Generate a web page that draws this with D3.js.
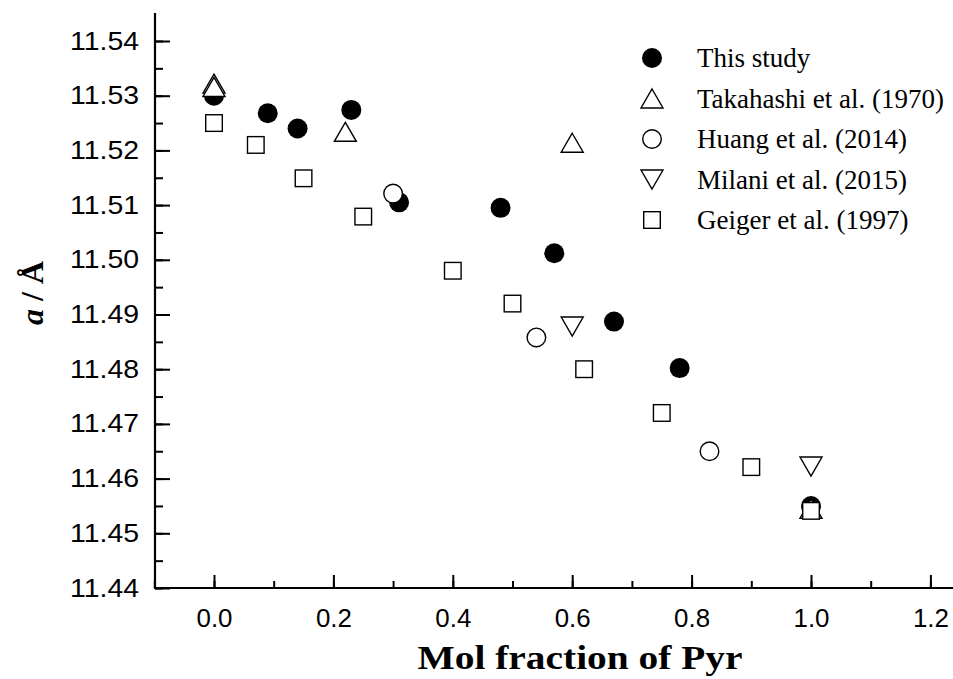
<!DOCTYPE html>
<html><head><meta charset="utf-8">
<script src="https://cdn.jsdelivr.net/npm/d3@7"></script>
<style>body{margin:0;background:#fff}svg{display:block}</style>
</head><body>
<svg id="c" width="953" height="679"></svg>
<script>
// ---- data ----
const thisStudyX = [0.00, 0.09, 0.14, 0.23, 0.31, 0.48, 0.57, 0.67, 0.78, 1.00];
const thisStudyY = [11.5300, 11.5268, 11.5240, 11.5274, 11.5105, 11.5095, 11.5012, 11.4887, 11.4802, 11.4550];
const takahashiX = [0.00, 0.00, 0.22, 0.60, 1.00];
const takahashiY = [11.5322, 11.5316, 11.5234, 11.5214, 11.4545];
const huangX = [0.30, 0.54, 0.83];
const huangY = [11.5121, 11.4858, 11.4650];
const milaniX = [0.60, 1.00];
const milaniY = [11.4878, 11.4622];
const geigerX = [0.00, 0.07, 0.15, 0.25, 0.40, 0.50, 0.62, 0.75, 0.90, 1.00];
const geigerY = [11.5250, 11.5210, 11.5149, 11.5079, 11.4980, 11.4920, 11.4800, 11.4720, 11.4621, 11.4541];
const legendLabels = ["This study", "Takahashi et al. (1970)", "Huang et al. (2014)", "Milani et al. (2015)", "Geiger et al. (1997)"];
const xTicks = [0.0, 0.2, 0.4, 0.6, 0.8, 1.0, 1.2];
const yTicks = [11.44, 11.45, 11.46, 11.47, 11.48, 11.49, 11.50, 11.51, 11.52, 11.53, 11.54];

const svg = d3.select("#c");
const x = d3.scaleLinear().domain([-0.1, 1.2]).range([154.3, 930.4]);
const y = d3.scaleLinear().domain([11.44, 11.54]).range([588, 41]);
const x0 = 155, yTop = 13, yBot = 588, xRight = 953;

// ---- axes ----
const xMinor = d3.range(-1, 13).map(i => i / 10);
const yMinor = d3.range(0, 21).map(i => 11.44 + i * 0.005);

const gx = svg.append("g").attr("transform", `translate(0,${yBot})`);
gx.call(d3.axisBottom(x).tickValues(xMinor).tickSizeInner(-7).tickSizeOuter(0).tickFormat(""));
gx.select(".domain").remove();
const gx2 = svg.append("g").attr("transform", `translate(0,${yBot})`);
gx2.call(d3.axisBottom(x).tickValues(xTicks).tickSizeInner(-13).tickSizeOuter(0).tickPadding(14).tickFormat(d3.format(".1f")));
gx2.select(".domain").remove();
gx2.selectAll("text").attr("font-family", "Liberation Sans, Arial, sans-serif").attr("font-size", 26).attr("fill", "#000").attr("dy", "0.95em")
  .attr("textLength", 36).attr("lengthAdjust", "spacingAndGlyphs");

const gy = svg.append("g").attr("transform", `translate(${x0},0)`);
gy.call(d3.axisLeft(y).tickValues(yMinor).tickSizeInner(-8).tickSizeOuter(0).tickFormat(""));
gy.select(".domain").remove();
const gy2 = svg.append("g").attr("transform", `translate(${x0},0)`);
gy2.call(d3.axisLeft(y).tickValues(yTicks).tickSizeInner(-15).tickSizeOuter(0).tickPadding(16).tickFormat(d3.format(".2f")));
gy2.select(".domain").remove();
gy2.selectAll("text").attr("font-family", "Liberation Sans, Arial, sans-serif").attr("font-size", 25).attr("fill", "#000")
  .attr("textLength", 69).attr("lengthAdjust", "spacingAndGlyphs");

svg.selectAll(".tick line").attr("stroke", "#000").attr("stroke-width", 2);

svg.append("path").attr("d", `M${x0},${yTop}V${yBot}H${xRight}`).attr("fill", "none").attr("stroke", "#000").attr("stroke-width", 2.2);

// ---- titles ----
svg.append("text").attr("x", 580).attr("y", 669).attr("text-anchor", "middle")
  .attr("font-family", "Liberation Serif, Times New Roman, serif").attr("font-weight", "bold").attr("font-size", 33)
  .attr("textLength", 325).attr("lengthAdjust", "spacingAndGlyphs").text("Mol fraction of Pyr");

const yt = svg.append("text").attr("transform", "translate(43,293) rotate(-90)").attr("text-anchor", "middle")
  .attr("font-family", "Liberation Serif, Times New Roman, serif").attr("font-weight", "bold").attr("font-size", 32);
yt.append("tspan").attr("font-style", "italic").text("a");
yt.append("tspan").text(" / Å");

// ---- symbols ----
function sym(g, type) {
  if (type === "fcircle") return g.append("circle").attr("r", 10).attr("fill", "#000");
  if (type === "circle") return g.append("circle").attr("r", 9.3).attr("fill", "#fff").attr("stroke", "#000").attr("stroke-width", 1.4);
  if (type === "up") return g.append("path").attr("d", "M0,-9.5L11,9.5L-11,9.5Z").attr("fill", "#fff").attr("stroke", "#000").attr("stroke-width", 1.4);
  if (type === "down") return g.append("path").attr("d", "M0,9.5L11,-9.5L-11,-9.5Z").attr("fill", "#fff").attr("stroke", "#000").attr("stroke-width", 1.4);
  if (type === "square") return g.append("rect").attr("x", -8.3).attr("y", -8.3).attr("width", 16.6).attr("height", 16.6).attr("fill", "#fff").attr("stroke", "#000").attr("stroke-width", 1.4);
}
const series = [
  {xs: thisStudyX, ys: thisStudyY, type: "fcircle"},
  {xs: takahashiX, ys: takahashiY, type: "up"},
  {xs: huangX, ys: huangY, type: "circle"},
  {xs: milaniX, ys: milaniY, type: "down"},
  {xs: geigerX, ys: geigerY, type: "square"}
];
series.forEach(s => {
  s.xs.forEach((xv, i) => {
    const g = svg.append("g").attr("transform", `translate(${x(xv)},${y(s.ys[i])})`);
    sym(g, s.type);
  });
});

// ---- legend ----
series.forEach((s, i) => {
  const ly = 58 + i * 40.5;
  const g = svg.append("g").attr("transform", `translate(652,${ly})`);
  sym(g, s.type);
  svg.append("text").attr("x", 697).attr("y", ly + 9).attr("font-family", "Liberation Serif, Times New Roman, serif")
    .attr("font-size", 27).attr("fill", "#000").text(legendLabels[i]);
});
</script>
</body></html>
